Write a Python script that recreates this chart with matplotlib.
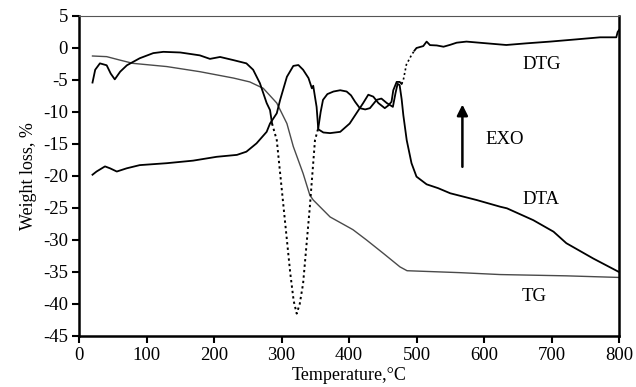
import matplotlib
matplotlib.use("Agg")
import matplotlib.pyplot as plt
import numpy as np

# ---- data ----
tg_t = [20, 41, 61, 80, 130, 179, 229, 253, 273, 293, 308, 317.5, 332, 342, 347, 372, 401, 406,
        426, 451, 475.5, 486, 564, 624, 722, 800]
tg_y = [-1.25, -1.35, -1.9, -2.4, -2.9, -3.7, -4.7, -5.3, -6.3, -8.6, -11.8, -15.4, -19.6, -23.0,
        -23.75, -26.4, -28.1, -28.4, -30.0, -32.1, -34.2, -34.8, -35.1, -35.4, -35.6, -35.85]

dta_t = [20, 26, 38.5, 46, 56, 70.6, 90, 130, 169, 204, 234, 248, 263, 278, 283, 293, 298, 308,
         317.5, 325, 332, 340, 345, 347, 350, 352, 354.5, 362, 372, 387, 401, 416, 424, 431,
         441, 448, 456, 465, 469, 472, 475, 478, 480.5, 485.5, 492.6, 500, 515, 532, 550, 589,
         624, 634, 673, 703, 722, 762, 800]
dta_y = [-19.8, -19.3, -18.5, -18.8, -19.3, -18.8, -18.3, -18.0, -17.6, -17.0, -16.7, -16.2, -14.9,
         -13.1, -11.8, -10.2, -8.1, -4.5, -2.8, -2.66, -3.4, -4.7, -6.3, -5.9, -7.9, -9.2, -12.7,
         -13.2, -13.3, -13.1, -11.8, -9.4, -9.6, -9.4, -8.1, -7.9, -8.6, -9.2, -7.0, -5.6, -5.8,
         -8.0, -10.5, -14.4, -18.0, -20.1, -21.3, -21.9, -22.7, -23.75, -24.8, -25.05, -26.9,
         -28.7, -30.5, -32.9, -35.0]

# DTG: solid part 1, dotted dip, solid loops, dotted rise, solid plateau
dtg1_t = [20, 24, 31, 41, 47, 53, 61, 71, 90, 110, 125, 150, 179, 194, 209, 229, 248, 258, 268,
          278, 283, 286]
dtg1_y = [-5.4, -3.4, -2.4, -2.7, -4.0, -4.9, -3.7, -2.7, -1.6, -0.8, -0.6, -0.7, -1.15, -1.7,
          -1.4, -1.9, -2.4, -3.4, -5.5, -8.6, -9.7, -11.8]
dtg2_t = [286, 293, 303, 313, 318, 322.5, 327, 332, 342, 349.6, 354.5]
dtg2_y = [-11.8, -14.4, -24.8, -35.2, -39.5, -41.5, -40.0, -36.8, -24.8, -14.4, -12.5]
dtg3_t = [354.5, 358, 361.5, 368, 377, 387, 396.5, 403, 409, 416, 421, 428.6, 436, 443.5, 453,
          458, 463, 465.6, 470.6, 475, 478]
dtg3_y = [-12.5, -10.0, -8.1, -7.2, -6.8, -6.6, -6.8, -7.4, -8.4, -9.4, -8.6, -7.3, -7.6, -8.6,
          -9.4, -9.0, -8.4, -6.6, -5.3, -5.3, -5.6]
dtg4_t = [478, 480.5, 485, 492.6, 497]
dtg4_y = [-5.6, -5.0, -2.6, -1.1, -0.4]
dtg5_t = [497, 500, 510, 515, 520, 530, 540, 550, 559.5, 574, 604, 633, 663, 698, 737, 772, 796,
          798, 800]
dtg5_y = [-0.4, 0.0, 0.3, 1.0, 0.45, 0.4, 0.2, 0.5, 0.83, 1.0, 0.73, 0.47, 0.73, 1.0, 1.35,
          1.67, 1.67, 2.5, 2.8]

xticks = [0, 100, 200, 300, 400, 500, 600, 700, 800]
yticks = [5, 0, -5, -10, -15, -20, -25, -30, -35, -40, -45]

plt.rcParams['font.family'] = ['Liberation Serif', 'DejaVu Serif']

fig = plt.figure(figsize=(6.36, 3.87), dpi=100)
ax = fig.add_axes([79/636, 1-336/387, 540/636, 320/387])

ax.plot(tg_t, tg_y, color='#4a4a4a', lw=1.0)
ax.plot(dta_t, dta_y, color='black', lw=1.3)
ax.plot(dtg1_t, dtg1_y, color='black', lw=1.3)
ax.plot(dtg2_t, dtg2_y, color='black', lw=1.4, ls=(0, (1.2, 1.6)))
ax.plot(dtg3_t, dtg3_y, color='black', lw=1.3)
ax.plot(dtg4_t, dtg4_y, color='black', lw=1.2, ls=(0, (1.2, 1.6)))
ax.plot(dtg5_t, dtg5_y, color='black', lw=1.3)

ax.set_xlim(0, 800)
ax.set_ylim(-45, 5)
ax.set_xticks(xticks)
ax.set_yticks(yticks)
ax.set_xticklabels([str(v) for v in xticks])
ax.set_yticklabels([str(v) for v in yticks])
ax.tick_params(axis='both', direction='out', length=5, width=1.5, labelsize=13.5, pad=3)
for s in ['left', 'bottom', 'right']:
    ax.spines[s].set_linewidth(1.8)
ax.spines['top'].set_linewidth(0.8)
ax.spines['top'].set_color('#555555')

ax.set_xlabel('Temperature,°C', fontsize=13, labelpad=2)
ax.set_ylabel('Weight loss, %', fontsize=13, labelpad=4)

ax.text(686, -2.6, 'DTG', fontsize=13.5, ha='center', va='center')
ax.text(685, -23.75, 'DTA', fontsize=13.5, ha='center', va='center')
ax.text(675, -38.8, 'TG', fontsize=13.5, ha='center', va='center')
ax.text(630, -14.3, 'EXO', fontsize=13.5, ha='center', va='center')
ax.annotate('', xy=(568, -8.4), xytext=(568, -19),
            arrowprops=dict(arrowstyle='-|>', color='black', lw=1.8, mutation_scale=16))

fig.savefig('out.png', dpi=100)
